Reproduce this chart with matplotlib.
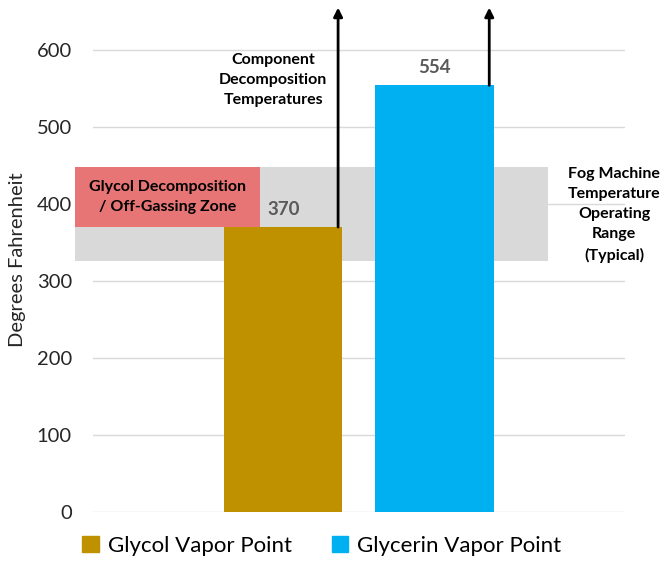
import matplotlib
matplotlib.use("Agg")
import matplotlib.pyplot as plt
import matplotlib.patches as mpatches

# ─── Data ─────────────────────────────────────────────────────────────────────
series = ["Glycol Vapor Point", "Glycerin Vapor Point"]
values = [370, 554]
colors = ["#BF9000", "#00B0F0"]
yticks = [0, 100, 200, 300, 400, 500, 600]

fog_range = (326, 448)          # typical fog machine operating range
glycol_zone = (370, 448)        # glycol decomposition / off-gassing zone

plt.rcParams["font.family"] = ["Lato", "DejaVu Sans"]

fig = plt.figure(figsize=(6.72, 5.63), dpi=100)
ax = fig.add_axes([0.138, 0.0906, 0.792, 0.896])

width = 0.222
offsets = [-0.142, 0.142]

# operating range band (behind bars)
ax.add_patch(mpatches.Rectangle((-0.534, fog_range[0]), 0.889, fog_range[1] - fog_range[0],
                                facecolor="#D9D9D9", edgecolor="none", zorder=1, clip_on=False))
ax.add_patch(mpatches.Rectangle((-0.534, glycol_zone[0]), 0.348, glycol_zone[1] - glycol_zone[0],
                                facecolor="#E87575", edgecolor="none", zorder=2, clip_on=False))

for off, v, c, name in zip(offsets, values, colors, series):
    ax.bar(off, v, width=width, color=c, label=name, zorder=3)
    ax.text(off, v + 12, str(v), ha="center", va="bottom", fontsize=13.5,
            fontweight="bold", color="#595959", zorder=5)

# decomposition arrows
for off, v in zip(offsets, values):
    x = off + width / 2 - 0.008
    ax.annotate("", xy=(x, 1.0), xycoords=("data", "axes fraction"),
                xytext=(x, v), textcoords="data",
                arrowprops=dict(arrowstyle="-|>", color="black", lw=2,
                                mutation_scale=13, shrinkA=0, shrinkB=0),
                zorder=6, annotation_clip=False)

ax.text(-0.161, 526, "Component\nDecomposition\nTemperatures", ha="center", va="bottom",
        fontsize=11.5, fontweight="bold", linespacing=1.55, zorder=6)
ax.text(-0.359, 409, "Glycol Decomposition\n/ Off-Gassing Zone", ha="center", va="center",
        fontsize=11.5, fontweight="bold", linespacing=1.55, zorder=6)
ax.text(0.48, 386, "Fog Machine\nTemperature\nOperating\nRange\n(Typical)", ha="center",
        va="center", fontsize=11.5, fontweight="bold", linespacing=1.55, zorder=6,
        clip_on=False)

ax.set_xlim(-0.5, 0.5)
ax.set_ylim(0, 655)
ax.set_yticks(yticks)
ax.set_xticks([])
ax.tick_params(axis="y", length=0, labelsize=14.5, labelcolor="#262626", pad=15)
ax.yaxis.grid(True, color="#D9D9D9", lw=1, zorder=0)
ax.set_axisbelow(True)
for s in ax.spines.values():
    s.set_visible(False)
ax.set_ylabel("Degrees Fahrenheit", fontsize=14.5, color="#262626", labelpad=8)

handles = [mpatches.Patch(color=c, label=n) for c, n in zip(colors, series)]
fig.legend(handles=handles, loc="center left", bbox_to_anchor=(0.122, 0.03), ncol=2,
           frameon=False, fontsize=16, handlelength=0.75, handleheight=0.75,
           handletextpad=0.4, columnspacing=1.8, borderaxespad=0, borderpad=0)

fig.savefig("out.png", dpi=100)
